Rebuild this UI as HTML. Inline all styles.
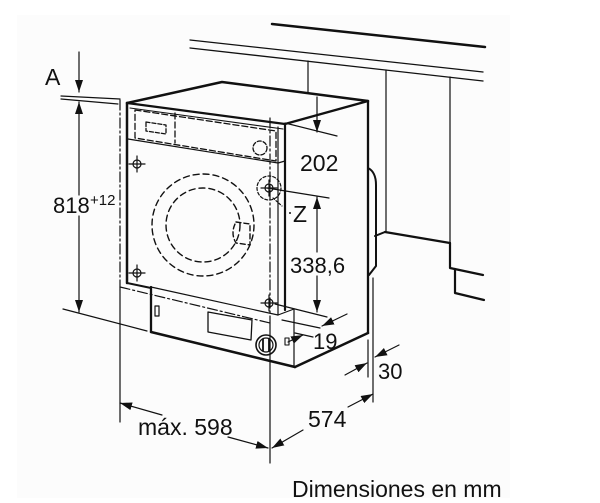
<!DOCTYPE html>
<html>
<head>
<meta charset="utf-8">
<style>
  html,body{margin:0;padding:0;background:#fff;}
  svg{display:block;}
  text{font-family:"Liberation Sans",Arial,sans-serif;fill:#111;}
</style>
</head>
<body>
<svg width="600" height="503" viewBox="0 0 600 503" xmlns="http://www.w3.org/2000/svg">
  <defs>
    <marker id="ah" markerUnits="userSpaceOnUse" markerWidth="13" markerHeight="8" refX="12" refY="4" orient="auto">
      <path d="M0,0 L12,4 L0,8 z" fill="#111"/>
    </marker>
  </defs>
  <rect x="17" y="15" width="493" height="483" fill="#fcfcfc"/>

  <g stroke="#111" fill="none" stroke-linecap="round" stroke-linejoin="round">
    <!-- counter / cabinet -->
    <line x1="272" y1="24" x2="485" y2="47" stroke-width="2.5"/>
    <line x1="190" y1="40" x2="483" y2="72" stroke-width="1.3"/>
    <line x1="190" y1="48" x2="483" y2="81" stroke-width="1.3"/>
    <line x1="308" y1="61" x2="308" y2="93" stroke-width="1.2"/>
    <line x1="386" y1="70" x2="386" y2="232" stroke-width="1.2"/>
    <line x1="450" y1="77" x2="450" y2="243" stroke-width="1.2"/>
    <line x1="375" y1="236" x2="385" y2="232" stroke-width="2"/>
    <line x1="385" y1="232" x2="450" y2="243" stroke-width="2.2"/>
    <polyline points="450,243 450,268 483,275" stroke-width="2.2"/>
    <polyline points="455,269 455,293 484,300" stroke-width="2.2"/>

    <!-- machine body -->
    <polyline points="127,103 222,82 368,101" stroke-width="2.5"/>
    <line x1="127" y1="103" x2="285" y2="124" stroke-width="2.3"/>
    <line x1="285" y1="124" x2="368" y2="101" stroke-width="2.3"/>
    <line x1="130" y1="108" x2="283" y2="129" stroke-width="1.1"/>
    <line x1="127" y1="103" x2="127" y2="283" stroke-width="2.5"/>
    <line x1="128" y1="139" x2="278" y2="163" stroke-width="1.2"/>
    <line x1="278" y1="163" x2="285" y2="161" stroke-width="1.2"/>
    <line x1="278" y1="127" x2="278" y2="315" stroke-width="1.2"/>
    <line x1="285" y1="124" x2="285" y2="310" stroke-width="2.2"/>
    <line x1="368" y1="101" x2="368" y2="333" stroke-width="2.3"/>
    <path d="M368,168 Q376,172 376,185 L376,266 L369,275" stroke-width="2"/>
    <line x1="368" y1="333" x2="295" y2="367" stroke-width="2.5"/>
    <line x1="127" y1="283" x2="151" y2="288" stroke-width="2"/>
    <line x1="151" y1="287" x2="151" y2="332" stroke-width="2.3"/>
    <line x1="151" y1="332" x2="295" y2="367" stroke-width="2.5"/>
    <line x1="151" y1="287" x2="278" y2="315" stroke-width="1.2"/>
    <line x1="278" y1="315" x2="294" y2="309" stroke-width="1.2"/>
    <line x1="294" y1="309" x2="294" y2="367" stroke-width="1.2"/>

    <!-- control panel (dashed) -->
    <g stroke-width="1.3" stroke-dasharray="6,3">
      <polygon points="135,110 276,131 276,161 135,138"/>
      <line x1="175" y1="113" x2="175" y2="143"/>
      <polygon points="146,122 166,125 166,134 146,131" stroke-dasharray="4,2"/>
      <circle cx="260" cy="148" r="7" stroke-dasharray="4,2"/>
    </g>

    <!-- door -->
    <g stroke-width="1.4" stroke-dasharray="6,4">
      <circle cx="203" cy="225" r="51"/>
      <circle cx="203" cy="225" r="37"/>
      <path d="M236,222 L250,224 L250,245 L236,243 Q230,233 236,222 Z" stroke-dasharray="5,3"/>
    </g>

    <!-- niche dash-dot -->
    <g stroke-width="1.2" stroke-dasharray="10,3,2,3">
      <line x1="120" y1="100" x2="120" y2="290"/>
      <line x1="120" y1="287" x2="270" y2="323"/>
      <line x1="270" y1="118" x2="270" y2="323"/>
    </g>
    <line x1="120" y1="290" x2="120" y2="422" stroke-width="1.2"/>
    <line x1="270" y1="323" x2="270" y2="463" stroke-width="1.2"/>

    <!-- crosshairs -->
    <g stroke-width="1.2">
      <circle cx="137" cy="164" r="4"/><line x1="129" y1="164" x2="145" y2="164"/><line x1="137" y1="156" x2="137" y2="172"/>
      <circle cx="137" cy="273" r="4"/><line x1="129" y1="273" x2="145" y2="273"/><line x1="137" y1="265" x2="137" y2="281"/>
      <circle cx="269" cy="303" r="4"/><line x1="261" y1="303" x2="277" y2="303"/><line x1="269" y1="295" x2="269" y2="311"/>
      <circle cx="269" cy="188" r="4"/><line x1="261" y1="188" x2="277" y2="188"/><line x1="269" y1="180" x2="269" y2="196"/>
      <circle cx="269" cy="188" r="12" stroke-dasharray="3,2"/>
      <line x1="273" y1="198" x2="282" y2="206" stroke-dasharray="2,2"/>
    </g>

    <!-- plinth details -->
    <rect x="155" y="306" width="4" height="10" stroke-width="1.2"/>
    <polygon points="208,312 252,320 251,340 208,332" stroke-width="1.3"/>
    <circle cx="266" cy="345" r="10" stroke-width="1.6"/>
    <circle cx="266" cy="345" r="7" stroke-width="1.2"/>
    <line x1="263" y1="339" x2="263" y2="351" stroke-width="1.8"/>
    <line x1="269" y1="339" x2="269" y2="351" stroke-width="1.8"/>
    <rect x="285" y="338" width="4" height="7" stroke-width="1.1"/>

    <!-- extension lines -->
    <g stroke-width="1.2">
      <line x1="61" y1="96" x2="120" y2="99"/>
      <line x1="61" y1="99" x2="118" y2="104"/>
      <line x1="63" y1="309" x2="147" y2="331"/>
      <line x1="285" y1="123" x2="337" y2="136"/>
      <line x1="267" y1="188" x2="329" y2="198"/>
      <line x1="275" y1="304" x2="327" y2="317"/>
      <line x1="282" y1="320" x2="320" y2="328"/>
      <line x1="295" y1="333" x2="313" y2="337"/>
      <line x1="373" y1="278" x2="373" y2="402"/>
      <line x1="368" y1="340" x2="368" y2="377"/>
    </g>

    <!-- dimension arrows -->
    <g stroke-width="1.2" marker-end="url(#ah)">
      <line x1="79" y1="52" x2="79" y2="92"/>
      <line x1="79" y1="195" x2="79" y2="102"/>
      <line x1="79" y1="216" x2="79" y2="312"/>
      <line x1="317" y1="97" x2="317" y2="132"/>
      <line x1="317" y1="252" x2="317" y2="197"/>
      <line x1="317" y1="276" x2="317" y2="312"/>
      <line x1="347" y1="314" x2="322" y2="326"/>
      <line x1="288" y1="342" x2="303" y2="335"/>
      <line x1="399" y1="345" x2="375" y2="357"/>
      <line x1="345" y1="375" x2="367" y2="363"/>
      <line x1="348" y1="407" x2="373" y2="394"/>
      <line x1="303" y1="430" x2="272" y2="448"/>
      <line x1="162" y1="415" x2="120" y2="403"/>
      <line x1="228" y1="437" x2="268" y2="448"/>
    </g>
  </g>

  <!-- labels -->
  <text x="45" y="85" font-size="23">A</text>
  <text x="53" y="213" font-size="22">818</text>
  <text x="90" y="205" font-size="15">+12</text>
  <text x="300" y="171" font-size="23">202</text>
  <circle cx="290" cy="213" r="1" fill="#111"/>
  <text x="293" y="222" font-size="23">Z</text>
  <text x="290" y="273" font-size="22">338,6</text>
  <text x="313" y="349" font-size="22">19</text>
  <text x="378" y="379" font-size="22">30</text>
  <text x="308" y="427" font-size="23">574</text>
  <text x="138" y="435" font-size="23">máx. 598</text>
  <text x="292" y="497" font-size="23">Dimensiones en mm</text>
</svg>
</body>
</html>
